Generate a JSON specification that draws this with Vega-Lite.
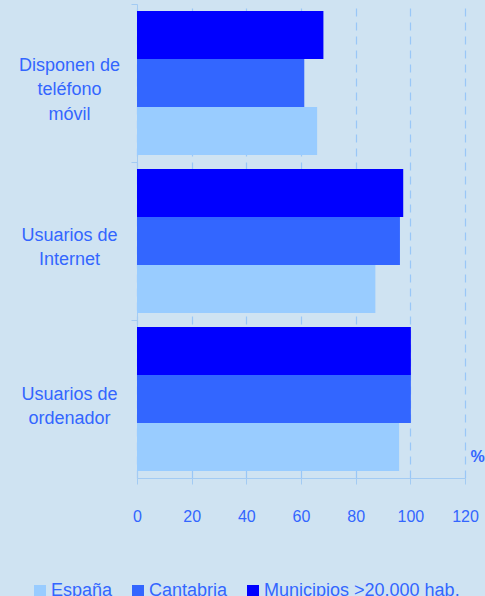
{
  "$schema": "https://vega.github.io/schema/vega-lite/v6.json",
  "autosize": "none",
  "width": 328,
  "height": 474,
  "padding": {"left": 137, "top": 4, "right": 20, "bottom": 118},
  "background": "#cfe3f2",
  "config": {
    "view": {"stroke": null},
    "font": "Liberation Sans"
  },
  "data": {
    "values": [
      {"categoria": "Disponen de teléfono móvil", "serie": "Municipios >20.000 hab.", "valor": 68.2},
      {"categoria": "Disponen de teléfono móvil", "serie": "Cantabria", "valor": 61.2},
      {"categoria": "Disponen de teléfono móvil", "serie": "España", "valor": 65.9},
      {"categoria": "Usuarios de Internet", "serie": "Municipios >20.000 hab.", "valor": 97.4},
      {"categoria": "Usuarios de Internet", "serie": "Cantabria", "valor": 96.2},
      {"categoria": "Usuarios de Internet", "serie": "España", "valor": 87.2},
      {"categoria": "Usuarios de ordenador", "serie": "Municipios >20.000 hab.", "valor": 100.2},
      {"categoria": "Usuarios de ordenador", "serie": "Cantabria", "valor": 100.2},
      {"categoria": "Usuarios de ordenador", "serie": "España", "valor": 95.9}
    ]
  },
  "mark": {"type": "bar"},
  "encoding": {
    "y": {
      "field": "categoria",
      "type": "nominal",
      "sort": null,
      "scale": {"paddingInner": 0.0886, "paddingOuter": 0.0443},
      "axis": {
        "title": null,
        "domainColor": "#a3cbf3",
        "tickColor": "#a3cbf3",
        "tickOffset": -79,
        "tickSize": 6,
        "labelAlign": "center",
        "labelBaseline": "middle",
        "labelPadding": 62,
        "labelOffset": {
          "condition": [
            {"test": "datum.value == 'Disponen de teléfono móvil'", "value": 61},
            {"test": "datum.value == 'Usuarios de Internet'", "value": 73}
          ],
          "value": 74
        },
        "labelFontSize": 18,
        "labelLineHeight": 24.5,
        "labelColor": "#3366ff",
        "labelExpr": "datum.value == 'Disponen de teléfono móvil' ? ['Disponen de', 'teléfono', 'móvil'] : datum.value == 'Usuarios de Internet' ? ['Usuarios de', 'Internet'] : ['Usuarios de', 'ordenador']"
      }
    },
    "yOffset": {
      "field": "serie",
      "type": "nominal",
      "sort": ["Municipios >20.000 hab.", "Cantabria", "España"],
      "scale": {"paddingInner": 0, "paddingOuter": 0}
    },
    "x": {
      "field": "valor",
      "type": "quantitative",
      "scale": {"domain": [0, 120], "nice": false},
      "axis": {
        "values": [0, 20, 40, 60, 80, 100, 120],
        "title": "%",
        "titleX": 340,
        "titleY": -22,
        "titleAngle": 0,
        "titleAlign": "center",
        "titleBaseline": "middle",
        "titleFontSize": 16,
        "titleFontWeight": "bold",
        "titleColor": "#3366ff",
        "domainColor": "#a3cbf3",
        "tickColor": "#a3cbf3",
        "tickSize": 6,
        "grid": true,
        "gridColor": "#99c7f7",
        "gridDash": [8, 6],
        "gridWidth": 1.2,
        "labelFontSize": 16,
        "labelColor": "#3366ff",
        "labelPadding": 24,
        "labelBaseline": "top",
        "labelFlush": false
      }
    },
    "color": {
      "field": "serie",
      "type": "nominal",
      "scale": {
        "domain": ["España", "Cantabria", "Municipios >20.000 hab."],
        "range": ["#99ccff", "#3366ff", "#0000ff"]
      },
      "legend": {
        "title": null,
        "orient": "none",
        "direction": "horizontal",
        "legendX": -106,
        "legendY": 578,
        "padding": 0,
        "symbolType": "square",
        "symbolSize": 144,
        "symbolStrokeWidth": 0,
        "symbolOpacity": 1,
        "labelFontSize": 18,
        "labelColor": "#3366ff",
        "labelOffset": 2,
        "columnPadding": 16,
        "labelLimit": 300
      }
    }
  }
}
